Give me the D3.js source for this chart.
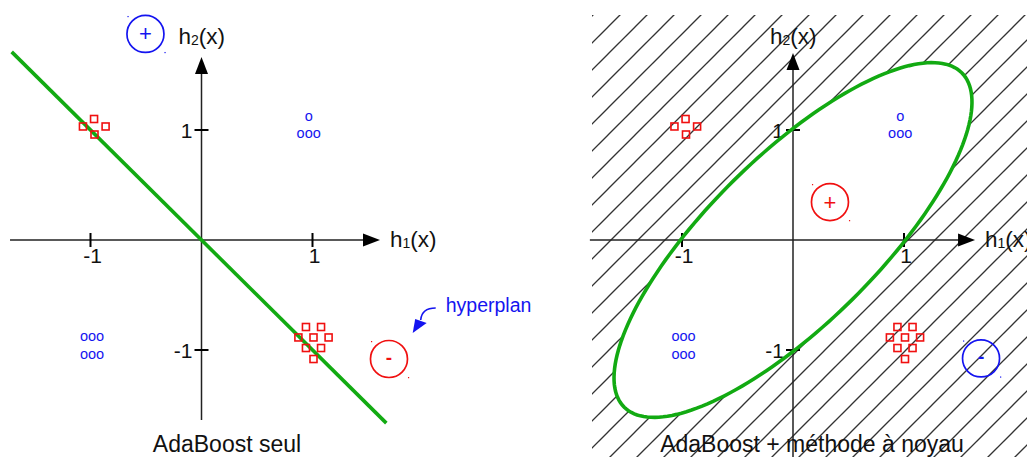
<!DOCTYPE html>
<html>
<head>
<meta charset="utf-8">
<script src="https://cdn.jsdelivr.net/npm/d3@7"></script>
<style>
  html, body { margin: 0; padding: 0; background: #fff; }
  svg { display: block; }
  text { font-family: 'Liberation Sans', Arial, sans-serif; }
</style>
</head>
<body>
<svg id="chart"></svg>
<script>
// values, in h1/h2 units
const tickValues = [-1, 1];
const tickLabels = ['-1', '1'];
// red squares around (-1, 1)
const squaresA = [[-0.968, 1.10], [-1.068, 1.032], [-0.864, 1.032], [-0.964, 0.959]];
// red squares around (1, -1)
const squaresB = [
  [0.941, -0.791], [1.077, -0.791],
  [0.873, -0.886], [1.009, -0.886], [1.145, -0.886],
  [0.941, -0.982], [1.077, -0.982],
  [1.009, -1.082]
];
// blue "o" groups
const blueRows = [
  { x: 0.966, y: 1.127, text: 'o' },
  { x: 0.966, y: 0.964, text: 'ooo' },
  { x: -0.986, y: -0.873, text: 'ooo' },
  { x: -0.986, y: -1.045, text: 'ooo' }
];
const leftCircles = [
  { x: -0.505, y: 1.873, sign: '+', color: 'blue' },
  { x: 1.689, y: -1.082, sign: '-', color: 'red' }
];
const rightCircles = [
  { x: 0.333, y: 0.345, sign: '+', color: 'red' },
  { x: 1.694, y: -1.077, sign: '-', color: 'blue' }
];
const hyperplanX = [-1.71, 1.665]; // line h2 = -h1
const ellipseAxes = [2.15, 0.76]; // semi-axes, major along h1 = h2
const titles = ['AdaBoost seul', 'AdaBoost + m\u00e9thode \u00e0 noyau'];

const W = 1027, H = 457;
const colors = { red: '#f01010', blue: '#1414f0', green: '#12aa12', axis: '#222' };

let svg = d3.select('#chart').attr('width', W).attr('height', H);

let defs = svg.append('defs');
let pat = defs.append('pattern')
  .attr('id', 'hatch')
  .attr('patternUnits', 'userSpaceOnUse')
  .attr('width', 27)
  .attr('height', 27)
  .attr('patternTransform', 'translate(14,0)');
[[-2, 2, 2, -2], [0, 27, 27, 0], [25, 29, 29, 25]].forEach(s => {
  pat.append('line')
    .attr('x1', s[0]).attr('y1', s[1]).attr('x2', s[2]).attr('y2', s[3])
    .attr('stroke', '#333').attr('stroke-width', 1.3);
});

const panels = [
  { xRange: [90.5, 312.5], h1: [-1.725, 1.608], h2: [-1.636, 1.664], titleX: 227 },
  { xRange: [682, 904], h1: [-1.83, 1.64], h2: [-1.98, 1.70], titleX: 812 }
];

function arrowHead(g, tip, dir) {
  // dir: 'right' or 'up'
  let L = 17, hw = 6.5, p;
  if (dir === 'right') p = [[tip[0], tip[1]], [tip[0] - L, tip[1] - hw], [tip[0] - L, tip[1] + hw]];
  else p = [[tip[0], tip[1]], [tip[0] - hw, tip[1] + L], [tip[0] + hw, tip[1] + L]];
  g.append('path').attr('d', d3.line()(p) + 'Z').attr('fill', '#000');
}

function drawAxes(g, x, y, cfg) {
  let x0 = x(0), y0 = y(0);
  g.append('line')
    .attr('x1', x(cfg.h1[0])).attr('x2', x(cfg.h1[1]) - 10)
    .attr('y1', y0).attr('y2', y0)
    .attr('stroke', colors.axis).attr('stroke-width', 1.5);
  arrowHead(g, [x(cfg.h1[1]), y0], 'right');
  g.append('line')
    .attr('x1', x0).attr('x2', x0)
    .attr('y1', y(cfg.h2[0])).attr('y2', y(cfg.h2[1]) + 10)
    .attr('stroke', colors.axis).attr('stroke-width', 1.5);
  arrowHead(g, [x0, y(cfg.h2[1])], 'up');

  // crossing ticks
  g.selectAll('.xtick').data(tickValues).enter().append('line')
    .attr('x1', d => x(d)).attr('x2', d => x(d))
    .attr('y1', y0 - 7).attr('y2', y0 + 7)
    .attr('stroke', '#000').attr('stroke-width', 2);
  g.selectAll('.ytick').data(tickValues).enter().append('line')
    .attr('y1', d => y(d)).attr('y2', d => y(d))
    .attr('x1', x0 - 7).attr('x2', x0 + 7)
    .attr('stroke', '#000').attr('stroke-width', 2);
  g.selectAll('.xlab').data(tickValues).enter().append('text')
    .attr('x', d => x(d) + 2).attr('y', y0 + 23)
    .attr('text-anchor', 'middle').attr('font-size', 21).attr('fill', '#111')
    .text((d, i) => tickLabels[i]);
  g.selectAll('.ylab').data(tickValues).enter().append('text')
    .attr('x', x0 - 9).attr('y', d => y(d) + 8)
    .attr('text-anchor', 'end').attr('font-size', 21).attr('fill', '#111')
    .text((d, i) => tickLabels[i]);

  // axis names h1(x), h2(x)
  let n1 = g.append('text').attr('x', x(cfg.h1[1]) + 10).attr('y', y0 + 7)
    .attr('font-size', 22.5).attr('fill', '#111');
  n1.append('tspan').text('h');
  n1.append('tspan').attr('font-size', 14).attr('dy', 1).text('1');
  n1.append('tspan').attr('dy', -1).text('(x)');
  let n2 = g.append('text').attr('x', x0 - 23).attr('y', 44)
    .attr('font-size', 22.5).attr('fill', '#111');
  n2.append('tspan').text('h');
  n2.append('tspan').attr('font-size', 14).attr('dy', 1).text('2');
  n2.append('tspan').attr('dy', -1).text('(x)');
}

function drawMarks(g, x, y, circles) {
  let sq = squaresA.concat(squaresB);
  g.selectAll('.sq').data(sq).enter().append('rect')
    .attr('x', d => x(d[0]) - 3.5).attr('y', d => y(d[1]) - 3.5)
    .attr('width', 7).attr('height', 7)
    .attr('fill', 'none').attr('stroke', colors.red).attr('stroke-width', 1.6);
  g.selectAll('.oo').data(blueRows).enter().append('text')
    .attr('x', d => x(d.x)).attr('y', d => y(d.y) + 4.5)
    .attr('text-anchor', 'middle').attr('font-size', 14.5)
    .attr('fill', colors.blue).text(d => d.text);

  let c = g.selectAll('.circ').data(circles).enter().append('g')
    .attr('transform', d => 'translate(' + x(d.x) + ',' + y(d.y) + ')');
  c.append('circle').attr('r', 18.5)
    .attr('fill', 'none').attr('stroke', d => colors[d.color]).attr('stroke-width', 1.7);
  c.append('text').attr('y', d => d.sign === '+' ? 7.5 : 5)
    .attr('text-anchor', 'middle')
    .attr('font-size', d => d.sign === '+' ? 22 : 19)
    .attr('font-weight', d => d.sign === '-' ? 'bold' : 'normal')
    .attr('fill', d => colors[d.color]).text(d => d.sign);
  // small corner dots
  [[-18, -18], [19, 18]].forEach(o => {
    c.append('rect').attr('x', o[0]).attr('y', o[1]).attr('width', 1.2).attr('height', 1.2)
      .attr('fill', d => colors[d.color]);
  });
}

panels.forEach((cfg, i) => {
  let x = d3.scaleLinear().domain([-1, 1]).range(cfg.xRange);
  let y = d3.scaleLinear().domain([-1, 1]).range([350, 130]);
  let g = svg.append('g');

  if (i === 1) {
    g.append('rect')
      .attr('x', x(-1.0) - 90).attr('y', 15)
      .attr('width', W).attr('height', H)
      .attr('fill', 'url(#hatch)');
  }

  let ell = null;
  if (i === 1) {
    let a = ellipseAxes[0], b = ellipseAxes[1], c = Math.SQRT1_2;
    let pts = d3.range(0, 361, 2).map(t => {
      let r = t * Math.PI / 180, u = a * Math.cos(r), v = b * Math.sin(r);
      return [x(c * (u - v)), y(c * (u + v))];
    });
    ell = d3.line().curve(d3.curveLinearClosed)(pts);
    g.append('path').attr('d', ell).attr('fill', '#fff');
  }

  drawAxes(g, x, y, cfg);

  if (i === 0) {
    g.append('line')
      .attr('x1', x(hyperplanX[0])).attr('y1', y(-hyperplanX[0]))
      .attr('x2', x(hyperplanX[1])).attr('y2', y(-hyperplanX[1]))
      .attr('stroke', colors.green).attr('stroke-width', 3.6);
  } else {
    g.append('path').attr('d', ell).attr('fill', 'none')
      .attr('stroke', colors.green).attr('stroke-width', 3.6);
  }

  drawMarks(g, x, y, i === 0 ? leftCircles : rightCircles);

  if (i === 0) {
    // hyperplan annotation
    let lx = x(2.2), ly = y(-0.655);
    g.append('text').attr('x', lx).attr('y', ly)
      .attr('font-size', 19.5).attr('fill', colors.blue).text('hyperplan');
    g.append('path')
      .attr('d', 'M' + (lx - 10) + ',' + (ly - 4) + ' Q' + (lx - 24) + ',' + (ly - 4) + ' ' + (lx - 25) + ',' + (ly + 8))
      .attr('fill', 'none').attr('stroke', colors.blue).attr('stroke-width', 1.6);
    g.append('path')
      .attr('d', d3.line()([[lx - 33, ly + 21], [lx - 30.5, ly + 7], [lx - 19, ly + 11]]) + 'Z')
      .attr('fill', colors.blue);
  }

  g.append('text').attr('x', cfg.titleX).attr('y', 452)
    .attr('text-anchor', 'middle').attr('font-size', 23).attr('fill', '#111')
    .text(titles[i]);
});
</script>
</body>
</html>
